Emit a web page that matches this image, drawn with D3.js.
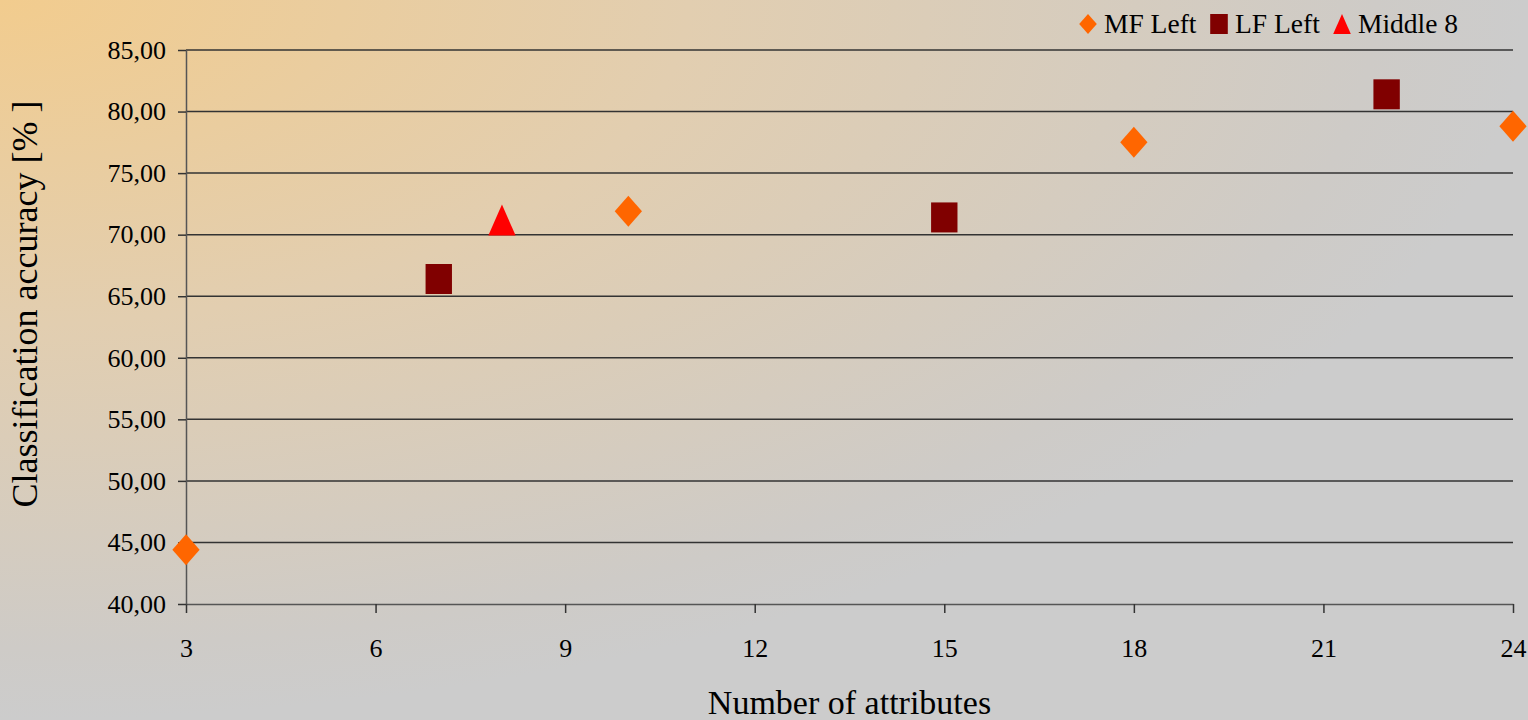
<!DOCTYPE html>
<html><head><meta charset="utf-8">
<script src="https://cdn.jsdelivr.net/npm/d3@7"></script>
<style>html,body{margin:0;padding:0;overflow:hidden;}svg{display:block;}</style>
</head><body>
<svg id="chart" width="1528" height="720"></svg>
<script>
const seriesNames = ["MF Left", "LF Left", "Middle 8"];
const mfX = [3, 10, 18, 24];
const mfY = [44.4, 71.9, 77.5, 78.8];
const lfX = [7, 15, 22];
const lfY = [66.4, 71.4, 81.4];
const midX = [8];
const midY = [71.2];
const xTicks = [3, 6, 9, 12, 15, 18, 21, 24];
const yTicks = [40, 45, 50, 55, 60, 65, 70, 75, 80, 85];
const colors = ["#FF6600", "#800000", "#FF0000"];

// custom symbol types: size = bounding box height; widths proportional
const diamondT = {draw(c, s){ const h=s/2, w=s*0.44; c.moveTo(0,-h); c.lineTo(w,0); c.lineTo(0,h); c.lineTo(-w,0); c.closePath(); }};
const squareT  = {draw(c, s){ const h=s/2, w=s*0.44; c.rect(-w,-h,2*w,2*h); }};
const triT     = {draw(c, s){ const h=s/2, w=s*0.44; c.moveTo(0,-h); c.lineTo(w,h); c.lineTo(-w,h); c.closePath(); }};
const shapes = [diamondT, squareT, triT];

const W = 1528, H = 720;
const m = {left: 186, right: 15, top: 50, bottom: 116};
const svg = d3.select("#chart");
const font = "'Liberation Serif', 'Times New Roman', serif";

const defs = svg.append("defs");
const g = defs.append("radialGradient").attr("id","bg")
  .attr("cx","0").attr("cy","0").attr("r","1").attr("fx","0").attr("fy","0");
g.append("stop").attr("offset","0%").attr("stop-color","#F2CC8E");
g.append("stop").attr("offset","45%").attr("stop-color","#E2CEB0");
g.append("stop").attr("offset","90%").attr("stop-color","#CECBC7");
g.append("stop").attr("offset","100%").attr("stop-color","#CCCCCC");
svg.append("rect").attr("width",W).attr("height",H).attr("fill","url(#bg)");

const x = d3.scaleLinear().domain([3,24]).range([m.left, W - m.right]);
const y = d3.scaleLinear().domain([40,85]).range([H - m.bottom, m.top]);

svg.append("g").selectAll("line").data(yTicks.filter(t=>t>40)).join("line")
  .attr("x1", x(3)).attr("x2", x(24)).attr("y1", d=>y(d)).attr("y2", d=>y(d))
  .attr("stroke","#333").attr("stroke-width",1.5);

const xAxis = svg.append("g").attr("transform",`translate(0,${y(40)})`)
  .call(d3.axisBottom(x).tickValues(xTicks).tickSize(9).tickPadding(26).tickSizeOuter(0));
const yAxis = svg.append("g").attr("transform",`translate(${x(3)},0)`)
  .call(d3.axisLeft(y).tickValues(yTicks).tickSize(8).tickPadding(12).tickSizeOuter(0)
    .tickFormat(d => d3.format(".2f")(d).replace(".", ",")));
[xAxis, yAxis].forEach(a => {
  a.select(".domain").attr("stroke","#555").attr("stroke-width",1.5);
  a.selectAll(".tick line").attr("stroke","#333").attr("stroke-width",1.5);
  a.selectAll(".tick text").attr("fill","#000").style("font-family",font).style("font-size","26px");
});
xAxis.selectAll(".tick text").attr("dy","0.71em");

svg.append("text").attr("x", (x(3)+x(24))/2).attr("y", 714)
  .attr("text-anchor","middle").style("font-family",font).style("font-size","34px")
  .text("Number of attributes");
svg.append("text").attr("transform",`translate(37,304) rotate(-90)`)
  .attr("text-anchor","middle").style("font-family",font).style("font-size","36px")
  .text("Classification accuracy [% ]");

const series = [
  {xs: mfX, ys: mfY}, {xs: lfX, ys: lfY}, {xs: midX, ys: midY}
];
const sizes = [31, 30, 31];
series.forEach((s, i) => {
  const sym = d3.symbol().type(shapes[i]).size(sizes[i]);
  svg.append("g").selectAll("path").data(s.xs.map((v,j)=>[v, s.ys[j]])).join("path")
    .attr("d", sym)
    .attr("transform", d => `translate(${x(d[0])},${y(d[1])})`)
    .attr("fill", colors[i]);
});

// legend
const legX = [1088, 1219, 1342];
const legS = [20, 20, 20];
const lg = svg.append("g");
seriesNames.forEach((n, i) => {
  const sym = d3.symbol().type(shapes[i]).size(legS[i]);
  lg.append("path").attr("d", sym).attr("transform", `translate(${legX[i]},24)`).attr("fill", colors[i]);
  lg.append("text").attr("x", legX[i] + 16).attr("y", 33).style("font-family",font).style("font-size","27.5px")
    .text(n);
});
</script>
</body></html>
